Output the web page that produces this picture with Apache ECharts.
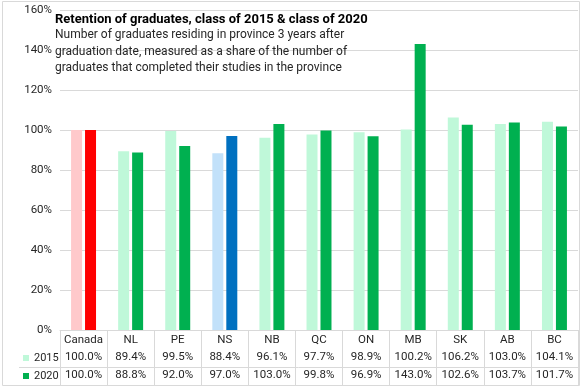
<!DOCTYPE html>
<html><head><meta charset="utf-8">
<script src="https://cdn.jsdelivr.net/npm/echarts@6/dist/echarts.min.js"></script>
<style>html,body{margin:0;padding:0;background:#fff}#c{width:582px;height:389px}</style>
</head><body><div id="c"></div>
<script>
const categories = ['Canada','NL','PE','NS','NB','QC','ON','MB','SK','AB','BC'];
const v2015 = [100.0,89.4,99.5,88.4,96.1,97.7,98.9,100.2,106.2,103.0,104.1];
const v2020 = [100.0,88.8,92.0,97.0,103.0,99.8,96.9,143.0,102.6,103.7,101.7];
const seriesNames = ['2015','2020'];
const titleText = 'Retention of graduates, class of 2015 & class of 2020';
const subText = 'Number of graduates residing in province 3 years after\ngraduation date, measured as a share of the number of\ngraduates that completed their studies in the province';

const col15 = '#BFF8D9', col20 = '#00B050';
const special = {Canada:['#FFC9CB','#FF0000'], NS:['#C2E1FA','#0070C0']};
function mk(vals, k){
  return vals.map((v,i)=>{
    const s = special[categories[i]];
    return s ? {value:v, itemStyle:{color:s[k]}} : v;
  });
}
const FONT = "Roboto, 'Liberation Sans', sans-serif";
const TXT = '#262626';
const tableFont = {fontFamily:FONT,fontSize:11.5,color:TXT};
function valueAxis(vals, off){
  return {type:'category',data:categories,gridIndex:0,position:'bottom',offset:off,
    axisLine:{show:false},axisTick:{show:false},
    axisLabel:Object.assign({interval:0,margin:3,formatter:(v,i)=>vals[i].toFixed(1)+'%'},tableFont)};
}
const chart = echarts.init(document.getElementById('c'));
chart.setOption({
  animation:false,
  textStyle:{fontFamily:FONT},
  title:{
    text:titleText, subtext:subText, left:55, top:12, itemGap:0, padding:[0,0,0,0],
    textStyle:{fontFamily:FONT,fontSize:13,fontWeight:'bold',color:'#000',lineHeight:15},
    subtextStyle:{fontFamily:FONT,fontSize:12,color:TXT,lineHeight:16.5}
  },
  legend:[
    {left:23, top:351, padding:0, itemWidth:6, itemHeight:6, itemGap:3, icon:'rect', data:[seriesNames[0]],
     textStyle:{fontFamily:FONT,fontSize:11,color:TXT,lineHeight:14}},
    {left:23, top:369, padding:0, itemWidth:6, itemHeight:6, itemGap:3, icon:'rect', data:[seriesNames[1]],
     textStyle:{fontFamily:FONT,fontSize:11,color:TXT,lineHeight:14}}
  ],
  grid:[
    {left:60,right:4,top:10,bottom:59},
    {left:60,right:4,top:330,height:55}
  ],
  xAxis:[
    {type:'category',data:categories,gridIndex:0,
     axisLine:{lineStyle:{color:'#d9d9d9'}},axisTick:{show:false},
     axisLabel:Object.assign({interval:0,margin:4},tableFont)},
    {type:'category',data:categories,gridIndex:1,
     axisLine:{show:false},axisTick:{show:false},axisLabel:{show:false},
     splitLine:{show:true,interval:0,lineStyle:{color:'#d9d9d9'}}},
    valueAxis(v2015,18),
    valueAxis(v2020,36)
  ],
  yAxis:[
    {type:'value',gridIndex:0,min:0,max:160,interval:20,
     axisLabel:{formatter:'{value}%',fontFamily:FONT,fontSize:11.5,color:TXT,margin:8},
     splitLine:{lineStyle:{color:'#d9d9d9'}}},
    {type:'value',gridIndex:1,show:false}
  ],
  series:[
    {name:seriesNames[0],type:'bar',data:mk(v2015,0),itemStyle:{color:col15},barWidth:11,barGap:'27%'},
    {name:seriesNames[1],type:'bar',data:mk(v2020,1),itemStyle:{color:col20},barWidth:11,barGap:'27%'}
  ],
  graphic:[
    {type:'rect',shape:{x:2.5,y:1.5,width:577,height:384},style:{fill:null,stroke:'#d9d9d9',lineWidth:1},silent:true},
    {type:'line',shape:{x1:19,y1:367.5,x2:578,y2:367.5},style:{stroke:'#d9d9d9',lineWidth:1},silent:true}
  ]
});
</script></body></html>
